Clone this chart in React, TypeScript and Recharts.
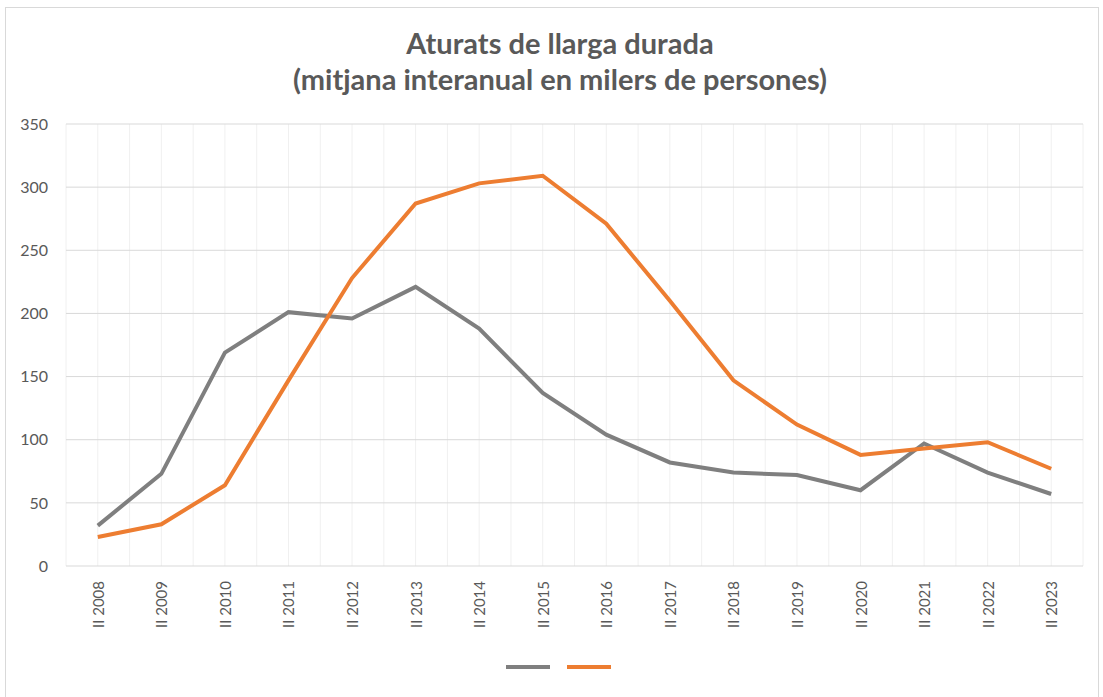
import { LineChart, Line, XAxis, YAxis, CartesianGrid, Legend } from "recharts";

// Long-term unemployed, year-on-year average (thousands of people)
const periods = [
  "II 2008", "II 2009", "II 2010", "II 2011", "II 2012", "II 2013", "II 2014", "II 2015",
  "II 2016", "II 2017", "II 2018", "II 2019", "II 2020", "II 2021", "II 2022", "II 2023",
];
const graySeries = [32, 73, 169, 201, 196, 221, 188, 137, 104, 82, 74, 72, 60, 97, 74, 57];
const orangeSeries = [23, 33, 64, 147, 228, 287, 303, 309, 271, 210, 147, 112, 88, 93, 98, 77];
const yTicks = [0, 50, 100, 150, 200, 250, 300, 350];

const data = periods.map((p, i) => ({ period: p, a: graySeries[i], b: orangeSeries[i] }));

const FONT = "Lato, 'Open Sans', sans-serif";
const TEXT = "#595959";
const HALF_BAND = 31.8;

const XTick = ({ x, y, payload }: any) => (
  <text
    x={x}
    y={y}
    transform={`rotate(-90, ${x}, ${y})`}
    textAnchor="end"
    dominantBaseline="central"
    fill={TEXT}
    fontSize={15}
    fontFamily={FONT}
  >
    {payload.value}
  </text>
);

const LegendSwatches = () => (
  <div style={{ display: "flex", justifyContent: "center", gap: 17, paddingTop: 12, paddingLeft: 34 }}>
    <span style={{ width: 44, height: 4, background: "#7f7f7f", display: "inline-block" }} />
    <span style={{ width: 44, height: 4, background: "#ed7d31", display: "inline-block" }} />
  </div>
);

export default function App() {
  return (
    <div style={{ position: "absolute", left: 0, top: 0, width: 1103, height: 697, background: "#fff" }}>
      <div
        style={{
          position: "absolute",
          left: 5,
          top: 7,
          width: 1092,
          height: 700,
          border: "1px solid #d9d9d9",
        }}
      />
      <div
        style={{
          position: "absolute",
          left: 0,
          top: 25,
          width: 1120,
          textAlign: "center",
          fontFamily: FONT,
          fontWeight: 700,
          fontSize: 29,
          lineHeight: "36px",
          color: TEXT,
        }}
      >
        Aturats de llarga durada
        <br />
        (mitjana interanual en milers de persones)
      </div>
      <div style={{ position: "absolute", left: 0, top: 0 }}>
        <LineChart
          width={1103}
          height={697}
          data={data}
          margin={{ top: 124, right: 20, bottom: 14, left: 0 }}
        >
          <CartesianGrid
            horizontal={false}
            stroke="#f0f0f0"
            verticalCoordinatesGenerator={({ offset }: any) =>
              Array.from({ length: periods.length * 2 + 1 }, (_, i) => offset.left + (i * offset.width) / (periods.length * 2))
            }
          />
          <CartesianGrid vertical={false} stroke="#d9d9d9" />
          <XAxis
            dataKey="period"
            axisLine={false}
            tickLine={false}
            interval={0}
            height={87}
            tick={<XTick />}
            tickMargin={9}
            padding={{ left: HALF_BAND, right: HALF_BAND }}
          />
          <YAxis
            domain={[0, 350]}
            ticks={yTicks}
            axisLine={false}
            tickLine={false}
            width={66}
            tickMargin={12}
            tick={{ fill: TEXT, fontSize: 16, fontFamily: FONT }}
          />
          <Legend verticalAlign="bottom" height={30} content={<LegendSwatches />} />
          <Line
            type="linear"
            dataKey="a"
            stroke="#7f7f7f"
            strokeWidth={4}
            dot={false}
            isAnimationActive={false}
          />
          <Line
            type="linear"
            dataKey="b"
            stroke="#ed7d31"
            strokeWidth={4}
            dot={false}
            isAnimationActive={false}
          />
        </LineChart>
      </div>
    </div>
  );
}
